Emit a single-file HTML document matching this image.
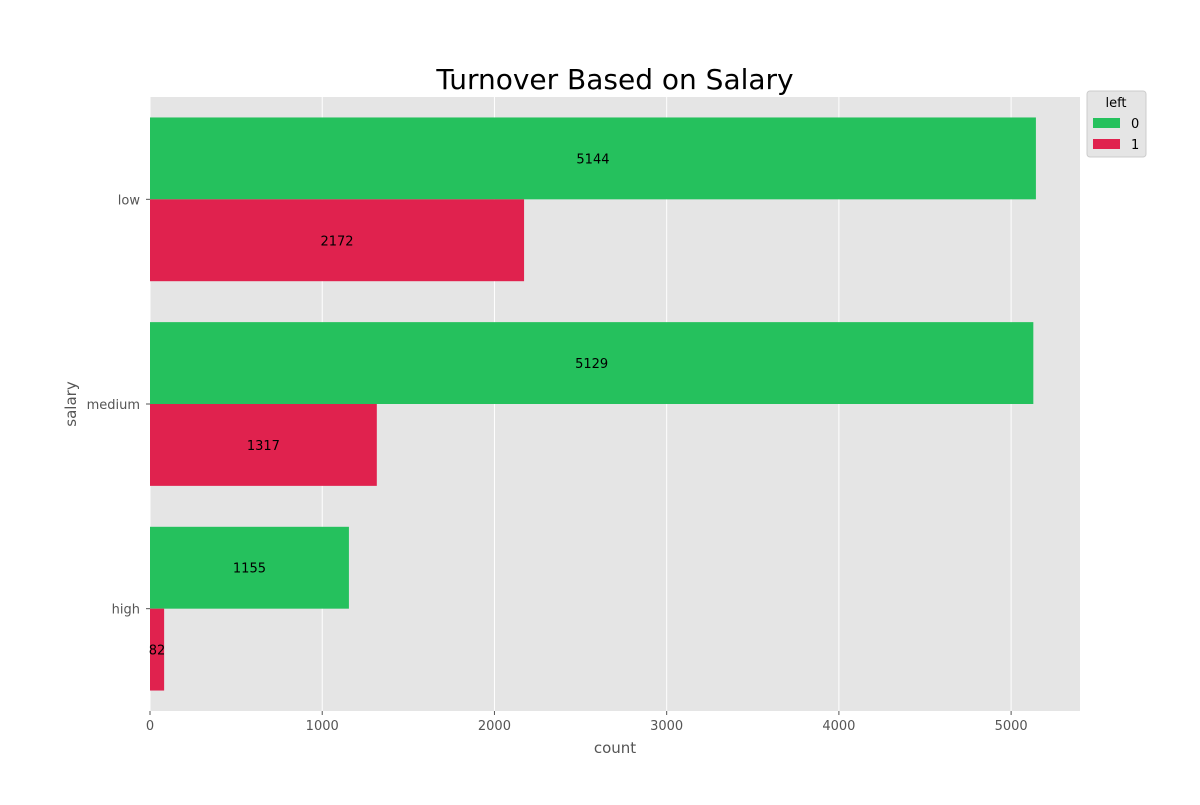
<!DOCTYPE html>
<html><head><meta charset="utf-8"><style>
body{margin:0;background:#fff;font-family:"Liberation Sans","DejaVu Sans",sans-serif}
</style></head><body>
<svg id="chart" width="1200" height="800" xmlns="http://www.w3.org/2000/svg" font-family="DejaVu Sans, Liberation Sans, sans-serif">
<rect width="1200" height="800" fill="#fff"/>
<text x="615" y="89" text-anchor="middle" font-size="28">Turnover Based on Salary</text>
<rect x="150" y="97" width="930" height="614" fill="#e5e5e5"/>
<g id="grid"></g><g id="bars"></g><g id="axes"></g>
<text x="615" y="753" text-anchor="middle" font-size="15" fill="#555">count</text>
<text transform="translate(76,404) rotate(-90)" text-anchor="middle" font-size="15" fill="#555">salary</text>
<g>
<rect x="1087" y="91" width="59" height="66" rx="3" fill="#e5e5e5" stroke="#ccc"/>
<text x="1116" y="107" text-anchor="middle" font-size="13">left</text>
<rect x="1093" y="118" width="27" height="10" fill="#25c15d"/>
<text x="1131" y="128" font-size="13">0</text>
<rect x="1093" y="139" width="27" height="10" fill="#e0224e"/>
<text x="1131" y="149" font-size="13">1</text>
</g>
</svg>
<script>
const categories=["low","medium","high"];
const stayed=[5144,5129,1155];
const left=[2172,1317,82];
const xTicks=[0,1000,2000,3000,4000,5000];
const NS="http://www.w3.org/2000/svg";
const x0=150,x1=1080,xMax=5400,y0=97,y1=711;
const xs=v=>x0+v/xMax*(x1-x0);
const ys=i=>y0+(i+0.5)/3*(y1-y0);
const bandH=(y1-y0)/3*0.4;
function mk(t,a,p){const e=document.createElementNS(NS,t);for(const k in a)e.setAttribute(k,a[k]);p.appendChild(e);return e;}
const grid=document.getElementById('grid'),bars=document.getElementById('bars'),axes=document.getElementById('axes');
xTicks.forEach(t=>{
const l=mk('line',{x1:xs(t),x2:xs(t),y1:y0,y2:y1,stroke:'#fff','stroke-width':1},grid);


mk('line',{x1:xs(t),x2:xs(t),y1:y1,y2:y1+4,stroke:'#555'},axes);
const tx=mk('text',{x:xs(t),y:y1+19,'text-anchor':'middle','font-size':13,fill:'#555'},axes);
tx.textContent=t;


});
categories.forEach((c,i)=>{
const y=ys(i);
mk('line',{x1:x0-4,x2:x0,y1:y,y2:y,stroke:'#555'},axes);
const tx=mk('text',{x:x0-10,y:y+5,'text-anchor':'end','font-size':13,fill:'#555'},axes);
tx.textContent=c;


[[stayed,'#25c15d',-bandH,'stayed'],[left,'#e0224e',0,'left']].forEach(([arr,col,off,nm])=>{
const r=mk('rect',{x:x0,y:y+off,width:xs(arr[i])-x0,height:bandH,fill:col},bars);


const lb=mk('text',{x:(x0+xs(arr[i]))/2,y:y+off+bandH/2+5,'text-anchor':'middle','font-size':13,fill:'#000'},bars);
lb.textContent=arr[i];


});
});
</script>
</body></html>
